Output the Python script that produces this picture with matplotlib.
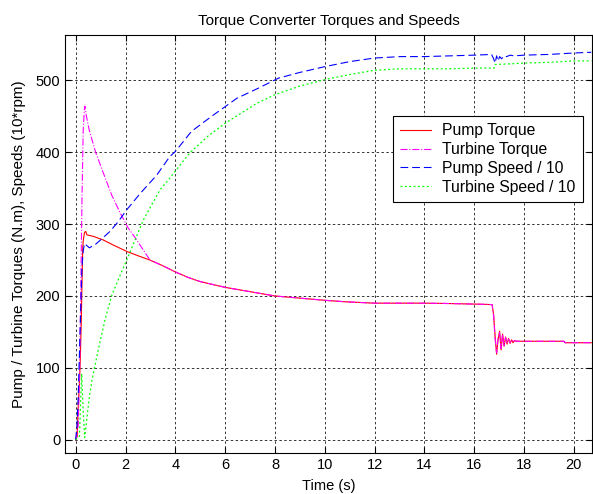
import matplotlib
matplotlib.use("Agg")
import matplotlib.pyplot as plt

plt.rcParams['font.family'] = ['Liberation Sans', 'DejaVu Sans']
plt.rcParams['font.size'] = 10.5

# pump torque (N.m)
pump_torque_t = [0, 0.06, 0.1, 0.15, 0.18, 0.22, 0.25, 0.28, 0.3, 0.35, 0.4, 0.45,
                 0.7, 1.1, 1.5, 2.05, 2.5, 2.98, 3.5, 4.03, 4.5, 5, 5.5, 6, 6.5, 7,
                 7.5, 8, 9, 10, 10.8, 12, 13, 14, 15, 16.3, 16.72, 16.78, 16.84,
                 16.9, 16.96, 17.02, 17.08, 17.14, 17.2, 17.26, 17.32, 17.38, 17.44,
                 17.5, 17.56, 17.62, 17.7, 18, 19, 19.6, 19.65, 20.7]
pump_torque = [0, 5, 46, 80, 107, 160, 213, 264, 276, 288, 290, 285,
               283, 278, 271, 262, 256, 250, 242, 233, 226, 220, 216, 212, 209, 206,
               203, 200, 197, 194, 192, 190, 190, 190, 189.5, 188.5, 188, 174, 144,
               119, 140, 151, 125, 147, 130, 143, 133, 141, 134,
               139, 135, 138, 137, 137, 137, 137, 135, 135]

# turbine torque (N.m)
turbine_torque_t = [0, 0.1, 0.15, 0.2, 0.25, 0.3, 0.35, 0.37, 0.42, 0.54, 0.8, 1.11,
                    1.45, 1.78, 2.1, 2.45, 2.75, 2.98, 3.5, 4.03, 4.5, 5, 5.5, 6, 6.5,
                    7, 7.5, 8, 9, 10, 10.8, 12, 13, 14, 15, 16.3, 16.72, 16.78, 16.84,
                    16.9, 16.96, 17.02, 17.08, 17.14, 17.2, 17.26, 17.32, 17.38, 17.44,
                    17.5, 17.56, 17.62, 17.7, 18, 19, 19.6, 19.65, 20.7]
turbine_torque = [0, 20, 80, 200, 330, 430, 460, 464, 452, 431, 400, 371,
                  340, 316, 295, 278, 262, 250, 242, 233, 226, 220, 216, 212, 209,
                  206, 203, 200, 197, 194, 192, 190, 190, 190, 189.5, 188.5, 188, 172, 140,
                  121, 142, 149, 127, 146, 131, 142, 134, 140, 135,
                  139, 136, 138, 137, 137, 137, 137, 135, 135]

# pump speed / 10 (10*rpm)
pump_speed_t = [0, 0.05, 0.1, 0.15, 0.2, 0.25, 0.3, 0.35, 0.45, 0.55, 0.8, 1.0, 1.38,
                1.7, 2.05, 2.6, 3.25, 3.78, 4.0, 4.65, 5.46, 6.47, 7.33, 8.14, 9, 10,
                11, 12, 13.04, 14, 15, 16, 16.7, 16.78, 16.84, 16.9, 16.96, 17.02,
                17.1, 17.2, 17.3, 17.45, 17.6, 18, 19, 20, 20.7]
pump_speed = [0, 20, 60, 120, 180, 240, 262, 273, 270, 267, 272, 278, 290,
              303, 320, 343, 368, 394, 401, 429, 450, 475, 489, 503, 511, 519,
              526, 531, 533, 533, 534, 535, 536, 530, 524, 534, 527, 533,
              530, 534, 533, 535, 534, 535, 536, 538, 539]

# turbine speed / 10 (10*rpm)
turbine_speed_t = [0, 0.15, 0.24, 0.3, 0.36, 0.45, 0.55, 0.65, 0.8, 1.0, 1.2, 1.46,
                   1.86, 2.05, 2.72, 3.39, 3.78, 4.58, 5.3, 5.99, 7.27, 8, 9, 10,
                   11, 12, 13, 14, 15, 16, 16.8, 16.84, 17.5, 18, 19, 20, 20.7]
turbine_speed = [0, 5, 92, 40, 3, 30, 60, 82, 108, 140, 170, 202,
                 235, 250, 306, 348, 364, 399, 422, 440, 468, 480, 492, 501,
                 508, 514, 516, 516, 516, 517, 517, 522, 523, 524, 525, 527, 527]

fig = plt.figure(figsize=(5.93, 4.94), dpi=100)
ax = fig.add_axes([0.1096, 0.0836, 0.8887, 0.8455])

ax.plot(pump_torque_t, pump_torque, color='red', linestyle='-', linewidth=0.8, label='Pump Torque')
ax.plot(turbine_torque_t, turbine_torque, color='magenta', linestyle='-.', linewidth=0.8, label='Turbine Torque')
ax.plot(pump_speed_t, pump_speed, color='blue', linestyle=(0, (7, 3.5)), linewidth=0.8, label='Pump Speed / 10')
ax.plot(turbine_speed_t, turbine_speed, color='#00ff00', linestyle=(0, (1.5, 2)), linewidth=0.9, label='Turbine Speed / 10')

ax.set_xlim(-0.43, 20.73)
ax.set_ylim(-18, 563)
ax.set_xticks(range(0, 21, 2))
ax.set_yticks(range(0, 501, 100))
ax.grid(True, color='0.2', linestyle=(0, (2.5, 2.5)), linewidth=0.7)
ax.tick_params(direction='in', length=4, top=True, right=True)
for s in ax.spines.values():
    s.set_linewidth(0.8)

ax.set_title('Torque Converter Torques and Speeds', fontsize=11, pad=7)
ax.set_xlabel('Time (s)', labelpad=5)
ax.set_ylabel('Pump / Turbine Torques (N.m), Speeds (10*rpm)', fontsize=11, labelpad=7)

leg = ax.legend(loc='upper left', bbox_to_anchor=(0.622, 0.806), borderaxespad=0,
                fancybox=False, framealpha=1, edgecolor='black', handlelength=2.0,
                handletextpad=0.7, labelspacing=0.25, borderpad=0.45, fontsize=11.3)
leg.get_frame().set_linewidth(0.8)

fig.savefig('out.png', dpi=100)
